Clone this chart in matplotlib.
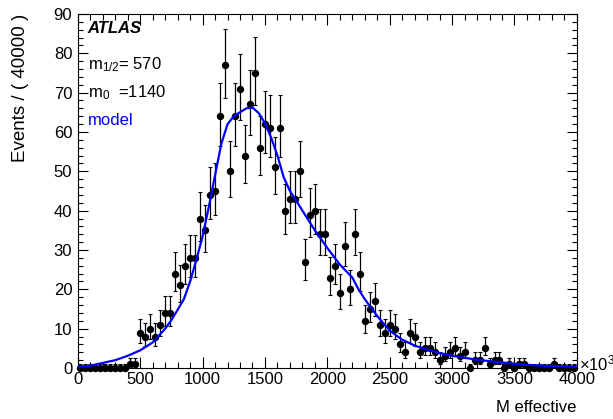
import numpy as np
import matplotlib
matplotlib.use('Agg')
import matplotlib.pyplot as plt
from matplotlib.ticker import MultipleLocator

plt.rcParams['font.family'] = ['Liberation Sans', 'DejaVu Sans']
plt.rcParams['mathtext.fontset'] = 'custom'
plt.rcParams['mathtext.rm'] = 'Liberation Sans'
plt.rcParams['mathtext.it'] = 'Liberation Sans:italic'

# bin width 40 (x10^3), 100 bins from 0 to 4000
bin_width = 40
counts = [0, 0, 0, 0, 0, 0, 0, 0, 0, 0,
          1, 1, 9, 8, 10, 8, 11, 14, 14, 24,
          21, 26, 28, 28, 38, 35, 44, 45, 64, 77,
          50, 64, 71, 54, 67, 75, 56, 62, 61, 51,
          61, 40, 43, 43, 50, 27, 39, 40, 34, 34,
          23, 26, 19, 31, 20, 34, 24, 12, 15, 17,
          11, 9, 11, 10, 6, 4, 9, 8, 4, 5,
          5, 4, 2, 3, 4, 5, 3, 4, 0, 2,
          2, 5, 1, 2, 2, 0, 1, 0, 1, 1,
          0, 0, 0, 0, 0, 1, 0, 0, 0, 0]

# model curve
model_x = [0, 100, 200, 300, 400, 500, 600, 700, 750, 800, 850, 900, 950,
           1000, 1050, 1100, 1150, 1200, 1250, 1300, 1350, 1400, 1450, 1500,
           1550, 1600, 1650, 1700, 1750, 1800, 1900, 2000, 2100, 2200, 2250,
           2300, 2400, 2500, 2600, 2700, 2800, 2900, 3000, 3200, 3400, 3600,
           3800, 4000]
model_y = [0.3, 0.6, 1.3, 2.0, 3.1, 4.5, 6.5, 10, 12.2, 14.8, 17.5, 22, 27.5,
           33.5, 41, 49, 57, 62, 64, 65, 66, 66.2, 64.8, 62.2,
           58.5, 54, 48.5, 45, 42.6, 40, 35, 30.5, 26.3, 23, 20,
           17.5, 13.2, 9.5, 7.2, 5.7, 4.7, 3.8, 3.1, 2.1, 1.4, 0.8,
           0.5, 0.3]

n = np.array(counts, dtype=float)
centers = np.arange(len(counts)) * bin_width + bin_width / 2
# approximate Poisson (asymmetric) errors
err_lo = np.where(n > 0, np.sqrt(n + 0.25) - 0.5, 0)
err_hi = np.sqrt(n + 0.25) + 0.5

fig = plt.figure(figsize=(6.13, 4.19), dpi=100)
ax = fig.add_axes([0.127, 0.1217, 0.814, 0.845])

ax.errorbar(centers, n, yerr=[err_lo, err_hi], fmt='o', color='black',
            ms=4.3, elinewidth=0.9, capsize=1.3, capthick=0.8, clip_on=False, zorder=3)
ax.plot(model_x, model_y, color='blue', lw=1.6, zorder=4)

ax.set_xlim(0, 4000)
ax.set_ylim(0, 90)
ax.xaxis.set_major_locator(MultipleLocator(500))
ax.xaxis.set_minor_locator(MultipleLocator(100))
ax.yaxis.set_major_locator(MultipleLocator(10))
ax.yaxis.set_minor_locator(MultipleLocator(2))
ax.tick_params(which='both', direction='in', top=True, right=True, labelsize=12, width=0.8)
ax.tick_params(axis='x', which='major', length=8, pad=3)
ax.tick_params(axis='x', which='minor', length=4)
ax.tick_params(axis='y', which='major', length=7, pad=4)
ax.tick_params(axis='y', which='minor', length=3.5)
for s in ax.spines.values():
    s.set_linewidth(0.8)

ax.set_ylabel('Events / ( 40000 )', fontsize=13.5, loc='top')
ax.yaxis.set_label_coords(-0.098, 1.0)
ax.set_xlabel('M effective', fontsize=12, loc='right')
ax.xaxis.set_label_coords(1.0, -0.09)
ax.text(1.004, 0.014, r'$\times$10$^{3}$', transform=ax.transAxes, fontsize=12,
        ha='left', va='center', clip_on=False)

ax.text(0.02, 0.958, 'ATLAS', transform=ax.transAxes, fontsize=12,
        fontweight='bold', fontstyle='italic', va='center')
ax.text(0.02, 0.858, r'm$_{\mathrm{1/2}}$= 570', transform=ax.transAxes,
        fontsize=12, va='center')
ax.text(0.02, 0.778, r'm$_{\mathrm{0}}$  =1140', transform=ax.transAxes,
        fontsize=12, va='center')
ax.text(0.02, 0.698, 'model', transform=ax.transAxes, fontsize=12,
        color='blue', va='center')

fig.savefig('out.png', dpi=100)
